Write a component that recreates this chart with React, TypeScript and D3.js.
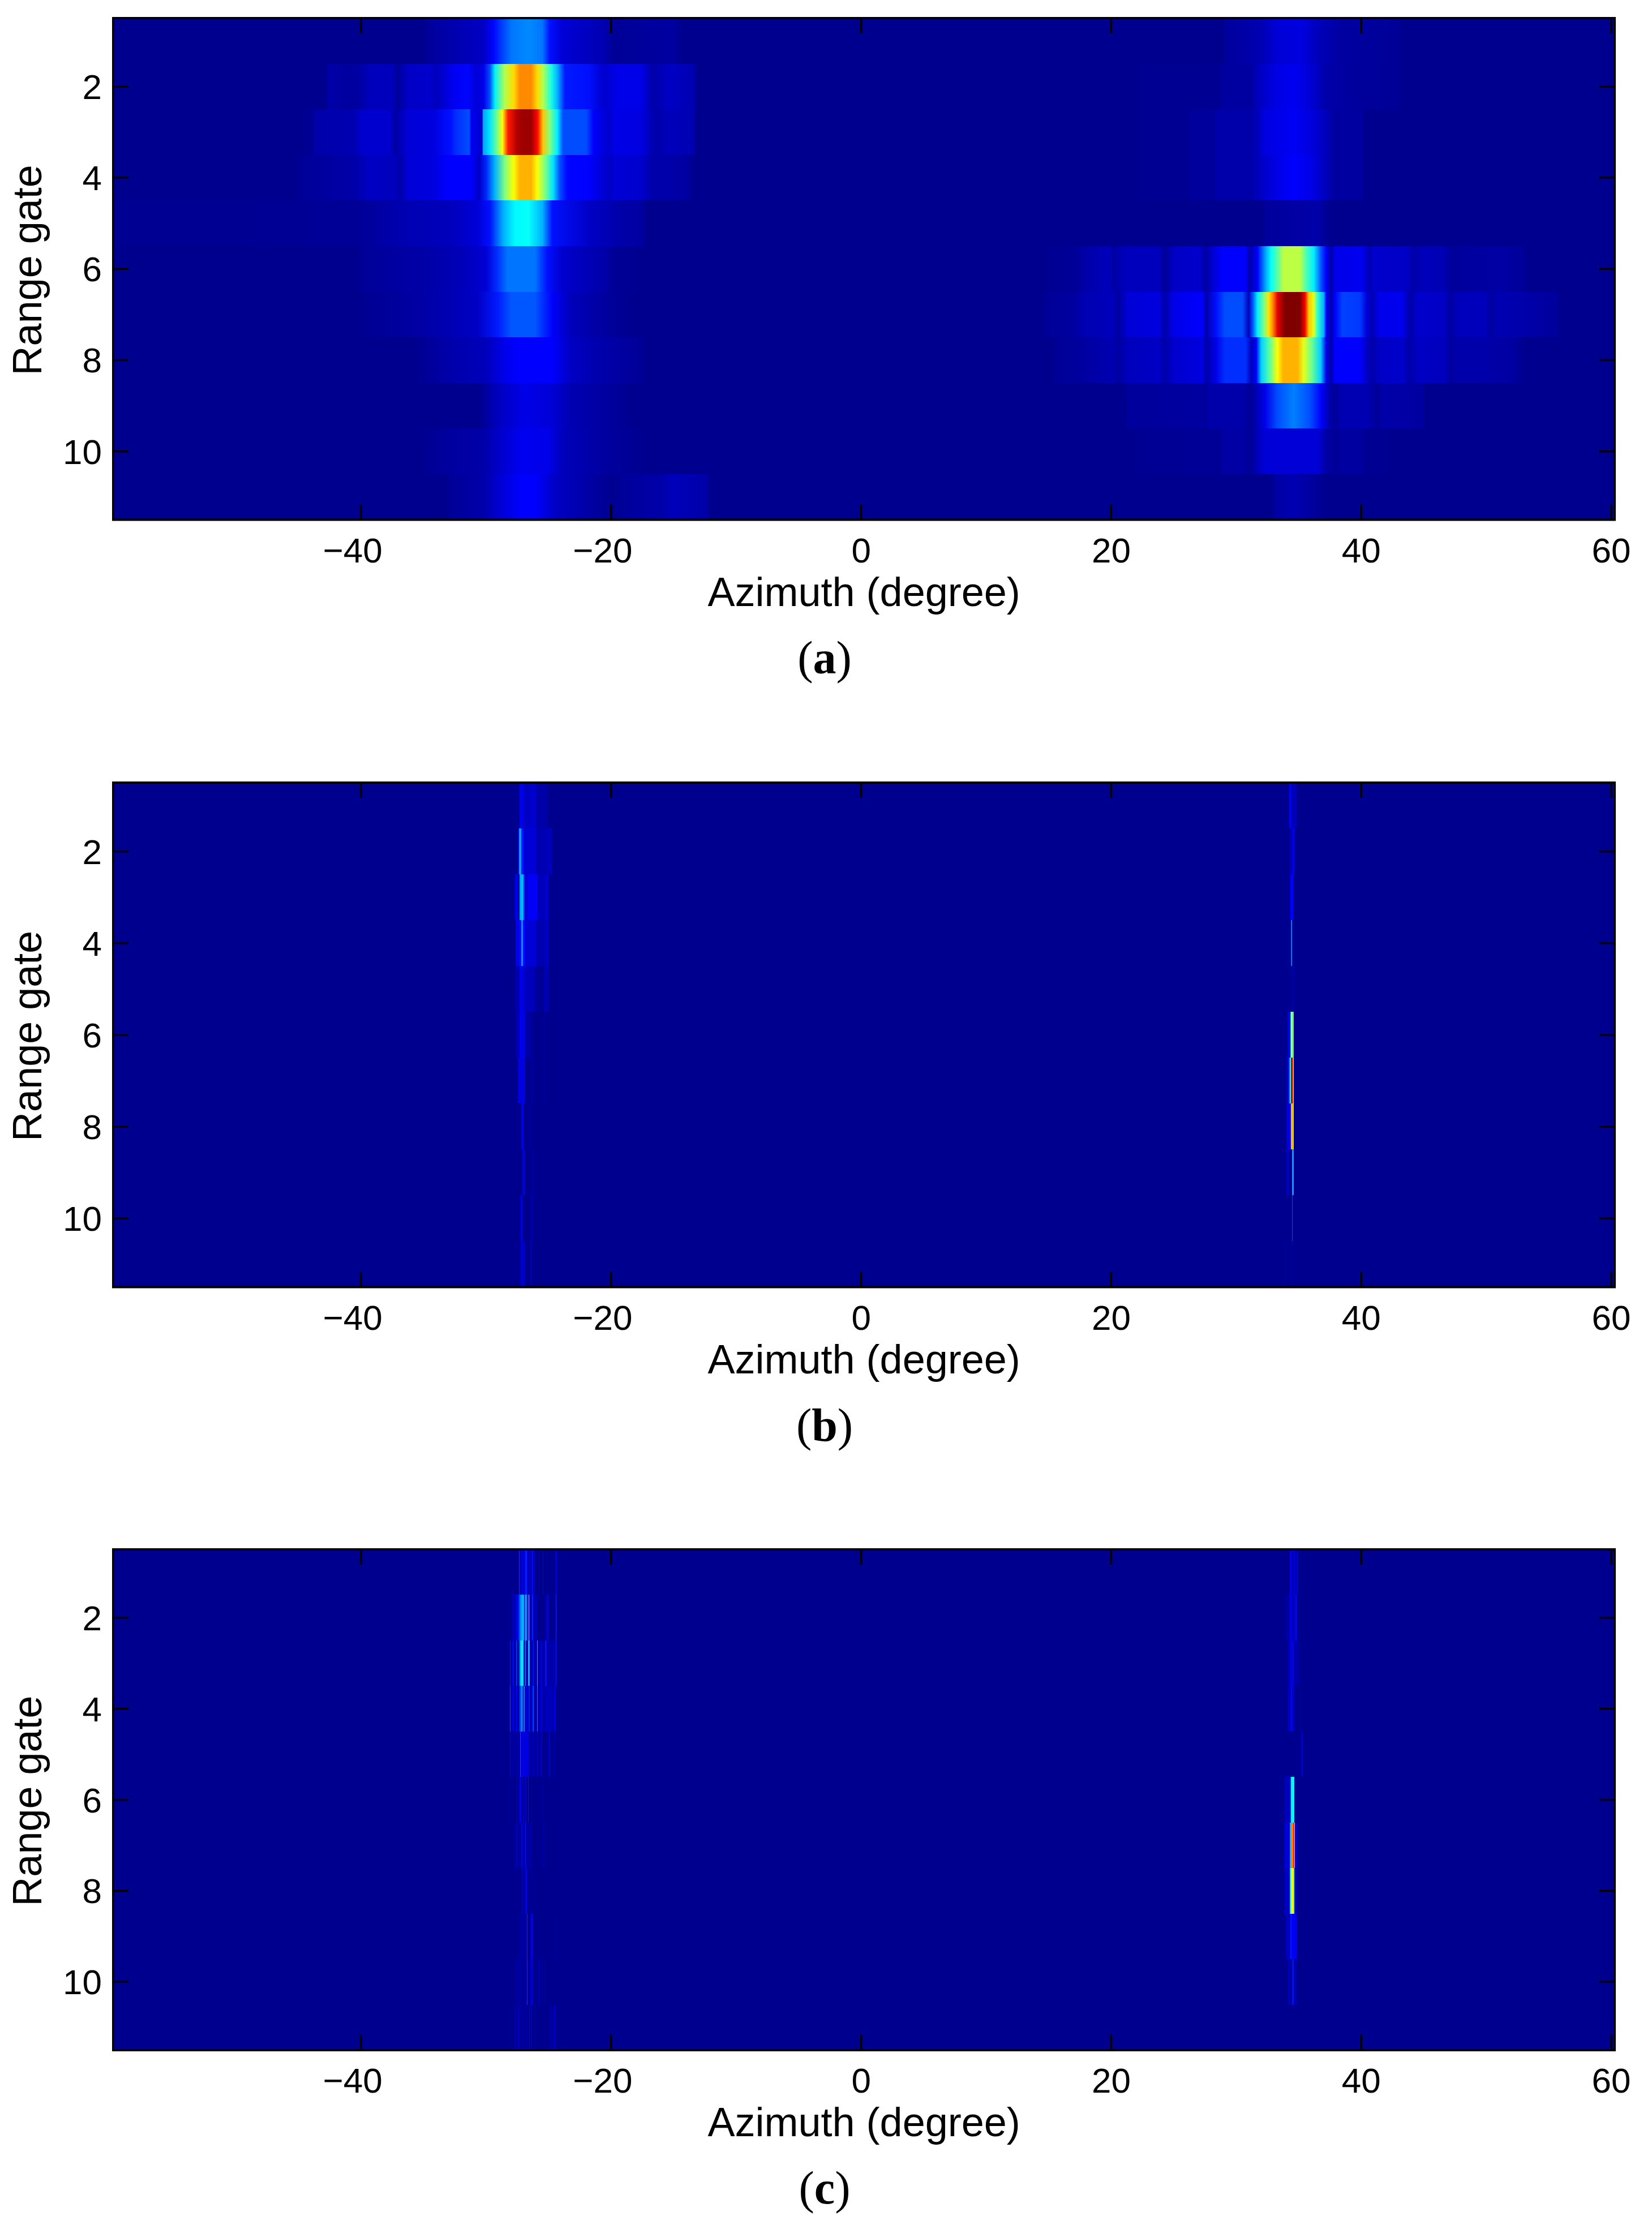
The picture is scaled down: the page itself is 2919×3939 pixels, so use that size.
import React from "react";
import * as d3 from "d3";

const WIDTH = 2919;
const HEIGHT = 3939;

// Axis content
const azimuthDomain = [-59.83, 60.27];
const xTicks = [-40, -20, 0, 20, 40, 60];
const yTicks = [2, 4, 6, 8, 10];
const gateDomain = [0.5, 11.5];
const panelLabels = ["a", "b", "c"];
const rowGates = [1, 2, 3, 4, 5, 6, 7, 8, 9, 10, 11];

// Jet colour map
const jetDomain = [0, 0.125, 0.375, 0.625, 0.875, 1];
const jetRange = ["#00008f", "#0000ff", "#00ffff", "#ffff00", "#ff0000", "#800000"];

// Panel (a): [azimuth, normalised power] samples along each range gate
const panelA1 = [[-35.0,0],[-34.3,.02],[-33.2,.03],[-30.2,.06],[-29.4,.13],[-28.8,.18],[-28.0,.24],[-26.6,.26],[-25.5,.24],[-24.9,.14],[-23.9,.08],[-20.6,.04],[-19.8,.01],[-15.1,.02],[-14.3,0],[29.0,0],[29.1,.015],[32.0,.04],[33.3,.08],[35.2,.09],[36.5,.05],[38.4,.02],[43.0,.01],[43.1,0]];
const panelA2 = [[-42.8,0],[-42.55,.03],[-41.4,.02],[-40.25,.02],[-39.3,.05],[-37.5,.05],[-37.1,.01],[-36.3,.06],[-34.5,.07],[-34.0,.05],[-32.6,.11],[-31.5,.13],[-30.8,.08],[-30.2,.1],[-29.7,.2],[-29.3,.36],[-28.5,.55],[-27.8,.66],[-27.3,.74],[-26.4,.74],[-25.9,.66],[-25.45,.55],[-24.8,.4],[-24.3,.3],[-23.7,.15],[-21.8,.14],[-20.6,.07],[-19.5,.1],[-17.6,.1],[-16.7,.03],[-15.3,.06],[-13.45,.04],[-13.2,.01],[-13.1,0],[22.2,0],[22.3,.003],[28.7,.005],[28.8,.02],[31.2,.02],[31.7,.05],[33.0,.09],[34.6,.11],[35.9,.08],[37.2,.03],[39.7,.015],[43.0,.01],[43.1,0]];
const panelA3 = [[-45.0,0],[-43.9,.005],[-43.7,.03],[-40.5,.04],[-40.0,.07],[-37.7,.07],[-37.25,.02],[-36.3,.08],[-34.2,.09],[-32.85,.14],[-32.4,.17],[-31.35,.2],[-31.2,.11],[-30.3,.07],[-30.27,.28],[-29.7,.35],[-29.15,.48],[-28.7,.62],[-28.25,.85],[-27.55,.95],[-27.1,.97],[-26.4,.97],[-25.9,.87],[-25.45,.68],[-24.9,.5],[-24.3,.36],[-23.85,.2],[-22.0,.2],[-21.4,.12],[-20.15,.07],[-19.7,.1],[-17.6,.09],[-16.45,.03],[-15.3,.05],[-13.45,.04],[-13.2,0],[22.2,0],[22.3,.005],[26.2,.005],[26.3,.015],[28.3,.015],[28.4,.03],[31.2,.03],[31.7,.05],[32.3,.09],[34.6,.115],[35.9,.09],[37.2,.05],[37.8,.02],[40.1,.02],[40.2,0]];
const panelA4 = [[-45.1,0],[-45.0,.01],[-42.55,.02],[-40.5,.03],[-39.3,.06],[-37.25,.05],[-36.8,.03],[-36.3,.08],[-34.2,.09],[-33.1,.125],[-31.2,.125],[-30.55,.06],[-30.0,.16],[-29.3,.3],[-28.5,.5],[-27.8,.62],[-27.3,.7],[-26.4,.7],[-25.9,.62],[-25.2,.48],[-24.65,.35],[-24.1,.2],[-23.5,.13],[-21.8,.125],[-20.15,.06],[-19.7,.08],[-17.6,.07],[-16.7,.03],[-15.3,.03],[-13.9,.02],[-13.45,0],[22.2,0],[22.3,.005],[26.2,.005],[26.3,.015],[28.3,.015],[28.4,.03],[31.2,.03],[31.7,.05],[33.0,.09],[34.6,.125],[35.9,.1],[37.2,.05],[37.8,.02],[40.1,.02],[40.2,0]];
const panelA5 = [[-50.0,.004],[-40.1,.01],[-36.5,.04],[-33.0,.05],[-30.7,.08],[-29.7,.14],[-28.6,.3],[-27.7,.37],[-26.6,.38],[-25.5,.3],[-24.7,.14],[-21.7,.06],[-19.2,.03],[-17.5,.02],[-17.3,0],[32.2,0],[32.3,.015],[36.5,.03],[37.5,0]];
const panelA6 = [[-40.2,0],[-40.1,.01],[-34.3,.03],[-31.6,.05],[-30.0,.08],[-29.1,.17],[-28.3,.24],[-26.1,.24],[-25.1,.14],[-23.9,.07],[-20.6,.03],[-19.8,.01],[-17.5,0],[14.9,0],[15.0,.005],[17.1,.01],[18.05,.03],[19.9,.05],[20.1,.02],[21.05,.05],[23.8,.05],[24.3,.01],[25.0,.06],[27.1,.07],[27.5,.02],[28.2,.08],[28.9,.125],[30.75,.125],[31.1,.03],[31.7,.12],[32.4,.3],[32.8,.38],[33.5,.5],[33.75,.56],[35.1,.56],[35.6,.45],[36.2,.36],[36.8,.2],[37.2,.12],[37.6,.03],[37.9,.1],[40.0,.11],[40.7,.04],[41.0,.07],[43.7,.06],[44.1,.03],[45.1,.05],[46.7,.04],[47.1,.015],[49.5,.02],[51.3,.025],[53.15,.01],[53.2,0]];
const panelA7 = [[-39.9,0],[-39.8,.005],[-36.2,.02],[-33.0,.04],[-30.7,.06],[-29.1,.15],[-28.0,.21],[-26.1,.21],[-24.7,.12],[-23.3,.05],[-20.6,.02],[-18.4,0],[14.6,0],[14.7,.01],[17.1,.02],[17.8,.04],[20.1,.05],[20.6,.02],[21.3,.08],[23.8,.09],[24.3,.03],[25.0,.1],[27.3,.125],[27.6,.03],[28.4,.14],[29.1,.2],[30.5,.2],[31.0,.05],[31.3,.2],[31.7,.36],[32.25,.5],[32.6,.65],[32.95,.75],[33.3,.9],[33.9,1],[35.1,1],[35.5,.88],[35.8,.68],[36.2,.6],[36.5,.42],[37.0,.3],[37.2,.12],[37.6,.03],[37.9,.12],[38.5,.19],[39.9,.18],[40.45,.08],[40.9,.04],[41.4,.1],[43.2,.11],[43.9,.03],[44.6,.07],[46.7,.06],[47.1,.02],[47.8,.05],[49.9,.05],[50.4,.02],[50.8,.04],[53.3,.03],[55.7,.015],[55.9,0]];
const panelA8 = [[-35.5,0],[-35.4,.005],[-33.0,.03],[-30.0,.05],[-28.6,.1],[-27.5,.125],[-24.7,.125],[-23.3,.06],[-20.6,.03],[-17.5,.01],[-17.4,0],[15.4,0],[15.5,.01],[17.1,.015],[17.8,.02],[20.1,.04],[20.6,.02],[21.3,.05],[23.8,.06],[24.3,.03],[25.0,.07],[27.3,.09],[27.6,.03],[28.4,.1],[29.1,.17],[30.75,.17],[31.2,.05],[31.6,.12],[32.0,.33],[32.6,.45],[33.3,.62],[33.75,.7],[34.9,.7],[35.4,.6],[36.05,.48],[36.75,.33],[37.2,.1],[37.6,.03],[37.9,.125],[39.9,.125],[40.45,.06],[40.9,.03],[41.4,.06],[43.2,.07],[43.9,.03],[44.6,.06],[46.7,.05],[47.1,.02],[47.8,.03],[49.9,.03],[52.2,.02],[52.9,.005],[53.0,0]];
const panelA9 = [[-30.5,0],[-30.0,.02],[-28.8,.06],[-26.9,.1],[-24.7,.08],[-23.3,.04],[-19.2,.01],[-18.5,0],[21.2,0],[21.3,.015],[27.5,.02],[27.55,.01],[27.8,.03],[30.5,.03],[31.2,.01],[31.7,.05],[32.3,.1],[33.3,.2],[34.6,.25],[35.9,.2],[36.8,.12],[37.5,.03],[38.0,.01],[38.4,.04],[40.4,.04],[41.35,.01],[41.7,.03],[44.9,.02],[45.1,0]];
const panelA10 = [[-35.0,0],[-34.9,.005],[-32.7,.02],[-30.2,.03],[-28.8,.07],[-27.2,.11],[-25.0,.1],[-23.9,.05],[-20.6,.02],[-17.9,.005],[-17.5,0],[21.9,0],[22.0,.005],[28.8,.01],[28.9,.025],[30.5,.025],[31.2,.01],[31.7,.05],[32.3,.08],[36.5,.08],[37.3,.02],[38.0,.01],[38.4,.02],[40.1,.02],[40.2,.005],[42.0,.005],[42.1,0]];
const panelA11 = [[-33.1,0],[-33.0,.01],[-30.2,.03],[-28.8,.08],[-27.2,.125],[-26.1,.125],[-24.4,.06],[-20.6,.01],[-19.8,0],[-19.5,.01],[-16.0,.03],[-15.1,.05],[-12.4,.03],[-12.1,0],[32.9,0],[33.0,.02],[34.6,.04],[35.9,.02],[37.2,0]];
const panelASeries = [panelA1, panelA2, panelA3, panelA4, panelA5, panelA6, panelA7, panelA8, panelA9, panelA10, panelA11];

// Panel (b): [azimuth start, azimuth end, normalised power] bands for each range gate
const panelB1 = [[-27.32,-27.02,.1],[-27.02,-26.41,.06],[-26.41,-26.03,.07],[-26.03,-25.05,.03],[34.26,34.41,.1],[34.41,34.81,.05]];
const panelB2 = [[-27.47,-27.32,.12],[-27.39,-27.17,.28],[-27.17,-27.02,.15],[-27.02,-26.03,.08],[-26.03,-25.20,.04],[-25.20,-24.75,.05],[34.29,34.51,.05],[34.51,34.66,.1]];
const panelB3 = [[-27.69,-27.47,.1],[-27.32,-27.02,.28],[-27.21,-27.06,.31],[-27.02,-26.91,.18],[-26.91,-26.64,.08],[-26.64,-25.88,.12],[-25.88,-25.28,.05],[-25.28,-24.95,.07],[34.33,34.56,.12]];
const panelB4 = [[-27.65,-27.32,.1],[-27.32,-27.21,.14],[-27.21,-27.06,.27],[-27.06,-26.91,.14],[-26.91,-26.03,.08],[-26.03,-25.28,.04],[-25.28,-24.98,.06],[34.38,34.45,.24]];
const panelB5 = [[-27.69,-27.32,.03],[-27.32,-27.09,.1],[-27.09,-26.86,.08],[-26.86,-26.11,.05],[-26.11,-25.36,.01],[-25.36,-24.98,.04],[34.38,34.66,.02]];
const panelB6 = [[-27.62,-27.32,.04],[-27.32,-26.86,.1],[-26.86,-26.64,.03],[-26.64,-26.26,.02],[-25.36,-25.28,.02],[34.11,34.26,.08],[34.26,34.33,.13],[34.33,34.39,.3],[34.39,34.45,.6],[34.45,34.54,.45],[34.54,34.60,.38]];
const panelB7 = [[-27.47,-26.86,.09],[-26.41,-26.26,.02],[-25.36,-25.28,.02],[34.0,34.21,.07],[34.21,34.29,.2],[34.29,34.38,.4],[34.38,34.51,.93],[34.51,34.56,.75],[34.56,34.60,.5]];
const panelB8 = [[-27.21,-27.02,.1],[-26.52,-26.37,.02],[34.0,34.26,.08],[34.26,34.39,.13],[34.39,34.44,.6],[34.44,34.51,.73],[34.51,34.56,.63],[34.56,34.60,.4]];
const panelB9 = [[-27.09,-26.86,.08],[-26.34,-26.18,.015],[34.0,34.18,.07],[34.45,34.60,.28]];
const panelB10 = [[-27.24,-27.09,.09],[-26.41,-26.26,.03],[34.45,34.51,.2]];
const panelB11 = [[-27.24,-26.94,.07],[-26.46,-26.31,.04],[33.80,33.88,.015],[34.41,34.48,.03]];
const panelBSeries = [panelB1, panelB2, panelB3, panelB4, panelB5, panelB6, panelB7, panelB8, panelB9, panelB10, panelB11];

// Panel (c): same band layout, later bands lie over earlier ones
const panelC1 = [[-27.39,-26.06,.05],[-27.39,-27.33,.18],[-27.17,-26.86,.08],[-26.89,-26.85,.15],[-26.82,-26.73,.16],[-26.56,-26.52,.1],[-26.34,-26.28,.15],[-25.76,-25.70,.06],[-25.48,-25.43,.1],[-25.13,-25.05,.04],[-24.43,-24.37,.12],[-23.92,-23.89,.03],[34.30,34.39,.12],[34.39,34.60,.05],[34.60,34.66,.1],[34.66,34.86,.04],[34.86,34.92,.08]];
const panelC2 = [[-27.95,-25.88,.04],[-27.62,-27.54,.12],[-27.47,-27.32,.15],[-27.32,-27.17,.25],[-27.17,-26.97,.3],[-26.92,-26.74,.27],[-26.65,-26.61,.33],[-26.56,-26.52,.28],[-26.35,-26.26,.16],[-25.25,-25.20,.07],[-25.10,-25.01,.1],[-24.43,-24.37,.16],[33.95,34.21,.02],[34.21,34.41,.05],[34.30,34.41,.1],[34.41,34.75,.06],[34.75,34.84,.13]];
const panelC3 = [[-28.10,-24.37,.03],[-28.10,-28.06,.15],[-27.87,-27.81,.15],[-27.60,-27.54,.2],[-27.47,-27.42,.15],[-27.33,-27.21,.3],[-27.21,-27.06,.37],[-27.06,-26.97,.25],[-26.88,-26.82,.28],[-26.67,-26.52,.3],[-26.26,-26.18,.15],[-25.94,-25.88,.3],[-25.61,-25.55,.1],[-25.28,-25.16,.14],[-24.43,-24.37,.15],[34.15,34.33,.04],[34.33,34.56,.09],[34.56,34.60,.12],[34.60,35.01,.03]];
const panelC4 = [[-28.10,-24.49,.03],[-28.10,-28.06,.2],[-27.87,-27.81,.12],[-27.60,-27.54,.13],[-27.33,-27.21,.2],[-27.21,-27.12,.27],[-27.12,-27.04,.2],[-27.0,-26.91,.25],[-26.79,-26.73,.12],[-26.61,-26.52,.15],[-26.34,-26.29,.15],[-26.25,-26.18,.22],[-25.94,-25.88,.25],[-25.61,-25.55,.12],[-25.28,-24.75,.05],[-24.52,-24.48,.12],[34.11,34.38,.05],[34.38,34.45,.13],[34.45,34.66,.05],[35.09,35.15,.06]];
const panelC5 = [[-28.10,-25.88,.02],[-28.10,-28.06,.1],[-27.29,-27.24,.2],[-27.24,-26.64,.09],[-26.64,-26.52,.06],[-26.26,-26.21,.06],[-25.91,-25.85,.06],[-25.61,-25.55,.08],[-24.98,-24.93,.1],[-24.52,-24.48,.03],[35.24,35.28,.1]];
const panelC6 = [[-28.07,-28.0,.02],[-27.57,-27.51,.08],[-27.32,-27.24,.12],[-27.24,-27.06,.05],[-27.02,-26.97,.1],[-26.89,-26.83,.1],[-26.65,-26.61,.14],[-25.51,-25.43,.02],[33.88,34.33,.05],[34.33,34.38,.2],[34.38,34.56,.37],[34.56,34.60,.5],[34.60,34.66,.33]];
const panelC7 = [[-27.77,-26.41,.02],[-27.56,-27.51,.1],[-27.17,-27.11,.1],[-26.89,-26.82,.14],[-26.41,-26.34,.04],[-25.43,-25.36,.05],[33.88,34.30,.08],[34.30,34.38,.3],[34.38,34.56,.75],[34.56,34.63,.85],[34.63,34.68,.55],[34.68,34.93,.05]];
const panelC8 = [[-27.65,-27.59,.03],[-27.17,-27.11,.05],[-26.89,-26.71,.09],[-26.41,-26.34,.03],[-25.40,-25.36,.06],[33.88,34.30,.06],[34.30,34.38,.36],[34.38,34.57,.62],[34.57,34.66,.45],[34.66,34.86,.05]];
const panelC9 = [[-27.32,-26.71,.02],[-26.74,-26.70,.17],[-26.43,-26.26,.1],[-24.37,-24.30,.015],[33.95,34.33,.05],[34.33,34.41,.15],[34.41,34.81,.11],[34.81,34.86,.04]];
const panelC10 = [[-27.72,-26.26,.015],[-26.74,-26.70,.18],[-26.41,-26.26,.08],[-25.81,-25.73,.04],[-25.54,-25.49,.02],[-25.29,-25.25,.05],[34.15,34.48,.04],[34.51,34.57,.17],[34.57,34.86,.04]];
const panelC11 = [[-27.72,-26.64,.015],[-27.72,-27.66,.04],[-27.44,-27.39,.05],[-26.56,-26.52,.12],[-26.41,-26.31,.05],[-26.11,-26.06,.05],[-25.76,-25.72,.05],[-24.98,-24.49,.02],[-24.52,-24.48,.08]];
const panelCSeries = [panelC1, panelC2, panelC3, panelC4, panelC5, panelC6, panelC7, panelC8, panelC9, panelC10, panelC11];

const FRAME_LEFT = 200;
const FRAME_RIGHT = 2853;
const panelTops = [32, 1383, 2738];
const panelBottoms = [918.5, 2274.5, 3623];

const jet = d3.scaleLinear<string>().domain(jetDomain).range(jetRange).clamp(true);
const x = d3.scaleLinear().domain(azimuthDomain).range([FRAME_LEFT, FRAME_RIGHT]);

const sans = "'Liberation Sans', Arial, sans-serif";
const serif = "'Liberation Serif', 'Times New Roman', serif";
const TICK = 27;

function Frame({ index, y }: { index: number; y: d3.ScaleLinear<number, number> }) {
  const top = panelTops[index];
  const bottom = panelBottoms[index];
  return (
    <g>
      {xTicks.map((t) => (
        <g key={t} stroke="#000" strokeWidth={3.5}>
          <line x1={x(t)} x2={x(t)} y1={bottom} y2={bottom - TICK} />
          <line x1={x(t)} x2={x(t)} y1={top} y2={top + TICK} />
        </g>
      ))}
      {yTicks.map((t) => (
        <g key={t} stroke="#000" strokeWidth={3.5}>
          <line x1={FRAME_LEFT} x2={FRAME_LEFT + TICK} y1={y(t)} y2={y(t)} />
          <line x1={FRAME_RIGHT} x2={FRAME_RIGHT - TICK} y1={y(t)} y2={y(t)} />
        </g>
      ))}
      <rect x={FRAME_LEFT} y={top} width={FRAME_RIGHT - FRAME_LEFT} height={bottom - top} fill="none" stroke="#000" strokeWidth={4} />
      {xTicks.map((t) => (
        <text key={t} x={x(t) + (t < 0 ? -15 : 0)} y={bottom + 75} fontFamily={sans} fontSize={62} textAnchor="middle">
          {t < 0 ? `\u2212${Math.abs(t)}` : t}
        </text>
      ))}
      {yTicks.map((t) => (
        <text key={t} x={180} y={y(t) + 22} fontFamily={sans} fontSize={62} textAnchor="end">
          {t}
        </text>
      ))}
      <text x={x(0) + 5} y={bottom + 152} fontFamily={sans} fontSize={72} textAnchor="middle">
        Azimuth (degree)
      </text>
      <text transform={`translate(73,${(top + bottom) / 2 + 2}) rotate(-90)`} fontFamily={sans} fontSize={72} textAnchor="middle">
        Range gate
      </text>
      <text x={1457} y={bottom + 271} fontFamily={serif} fontSize={82} textAnchor="middle">
        (<tspan fontWeight="bold">{panelLabels[index]}</tspan>)
      </text>
    </g>
  );
}

function GradientPanel() {
  const top = panelTops[0];
  const bottom = panelBottoms[0];
  const y = d3.scaleLinear().domain(gateDomain).range([top, bottom]);
  const span = azimuthDomain[1] - azimuthDomain[0];
  return (
    <g>
      <defs>
        {panelASeries.map((row, i) => (
          <linearGradient key={i} id={`gateA${i}`} gradientUnits="userSpaceOnUse" x1={FRAME_LEFT} x2={FRAME_RIGHT} y1={0} y2={0}>
            {row.map(([az, v], j) => (
              <stop key={j} offset={(az - azimuthDomain[0]) / span} stopColor={jet(v)} />
            ))}
          </linearGradient>
        ))}
      </defs>
      {rowGates.map((g, i) => (
        <rect key={g} x={FRAME_LEFT} width={FRAME_RIGHT - FRAME_LEFT} y={y(g - 0.5)} height={y(g + 0.5) - y(g - 0.5)} fill={`url(#gateA${i})`} shapeRendering="crispEdges" />
      ))}
      <Frame index={0} y={y} />
    </g>
  );
}

function BandPanel({ index, series }: { index: number; series: number[][][] }) {
  const top = panelTops[index];
  const bottom = panelBottoms[index];
  const y = d3.scaleLinear().domain(gateDomain).range([top, bottom]);
  return (
    <g>
      <rect x={FRAME_LEFT} y={top} width={FRAME_RIGHT - FRAME_LEFT} height={bottom - top} fill={jet(0)} />
      {series.map((row, i) =>
        row.map(([a, b, v], j) => (
          <rect key={`${i}-${j}`} x={x(a)} width={x(b) - x(a)} y={y(rowGates[i] - 0.5)} height={y(rowGates[i] + 0.5) - y(rowGates[i] - 0.5)} fill={jet(v)} shapeRendering="crispEdges" />
        ))
      )}
      <Frame index={index} y={y} />
    </g>
  );
}

export default function App() {
  return (
    <svg width={WIDTH} height={HEIGHT} viewBox={`0 0 ${WIDTH} ${HEIGHT}`} style={{ position: "absolute", left: 0, top: 0, background: "#fff" }}>
      <GradientPanel />
      <BandPanel index={1} series={panelBSeries} />
      <BandPanel index={2} series={panelCSeries} />
    </svg>
  );
}
